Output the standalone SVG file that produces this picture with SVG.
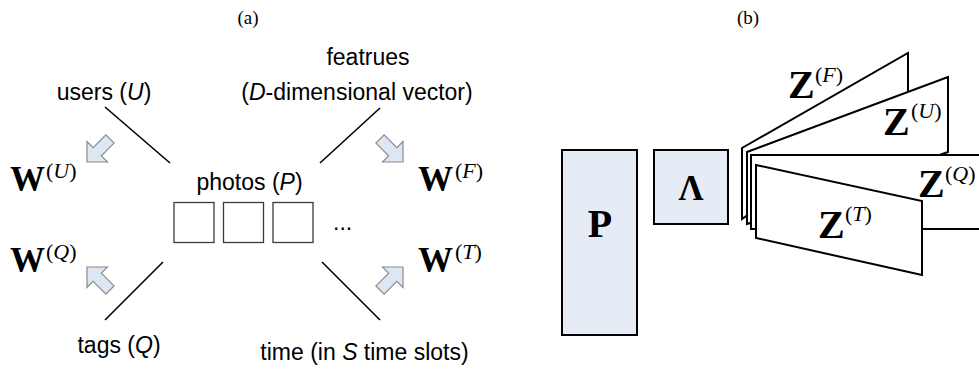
<svg xmlns="http://www.w3.org/2000/svg" width="979" height="369" viewBox="0 0 979 369">
<defs>
<style>
.lbl{font-family:"Liberation Sans",Arial,sans-serif;font-size:23px;fill:#000}
.it{font-style:italic}
.cap{font-family:"Liberation Serif","Times New Roman",serif;font-size:19px;fill:#000}
.mb{font-family:"Liberation Serif","Times New Roman",serif;font-weight:bold;fill:#000}
.sup{font-family:"Liberation Serif","Times New Roman",serif;font-size:22px;fill:#000}
.ln{stroke:#000;stroke-width:1.6;fill:none}
.sq{fill:#fff;stroke:#3a3a3a;stroke-width:1.3}
.arr{fill:#dde7f3;stroke:#8a8a8a;stroke-width:1.2;stroke-linejoin:miter}
.blk{fill:#e6ecf5;stroke:#000;stroke-width:2}
.page{fill:#fff;stroke:#000;stroke-width:2;stroke-linejoin:miter}
</style>
<path id="arrow" d="M0,0 L-14.5,-14.5 L-14.5,-5.8 L-32.5,-5.8 L-32.5,5.8 L-14.5,5.8 L-14.5,14.5 Z"/>
</defs>

<text class="cap" x="248" y="24" text-anchor="middle">(a)</text>
<text class="cap" x="748" y="24" text-anchor="middle">(b)</text>

<g id="connectors">
<line class="ln" x1="105" y1="107" x2="170" y2="163"/>
<line class="ln" x1="380" y1="108" x2="320" y2="163"/>
<line class="ln" x1="163" y1="262" x2="105" y2="320"/>
<line class="ln" x1="322" y1="262" x2="380" y2="320"/>
<use href="#arrow" class="arr" transform="translate(87,162) rotate(135)"/>
<use href="#arrow" class="arr" transform="translate(403,162) rotate(45)"/>
<use href="#arrow" class="arr" transform="translate(87,267) rotate(-135)"/>
<use href="#arrow" class="arr" transform="translate(403,267) rotate(-45)"/>
</g>

<g id="users"><text class="lbl" x="104" y="100" text-anchor="middle">users (<tspan class="it">U</tspan>)</text></g>
<g id="features">
<text class="lbl" x="368" y="65" text-anchor="middle">featrues</text>
<text class="lbl" x="357" y="100" text-anchor="middle" font-size="24">(<tspan class="it">D</tspan>-dimensional vector)</text>
</g>
<g id="photos">
<text class="lbl" x="249.5" y="190" text-anchor="middle">photos (<tspan class="it">P</tspan>)</text>
<rect class="sq" x="174" y="202.5" width="40" height="40"/>
<rect class="sq" x="223.5" y="202.5" width="40" height="40"/>
<rect class="sq" x="273" y="202.5" width="40" height="40"/>
<text class="lbl" x="333" y="230">...</text>
</g>
<g id="tags"><text class="lbl" x="119" y="353" text-anchor="middle">tags (<tspan class="it">Q</tspan>)</text></g>
<g id="time"><text class="lbl" x="364.5" y="360" text-anchor="middle">time (in <tspan class="it">S</tspan> time slots)</text></g>

<g id="WU"><text class="mb" x="10" y="191" font-size="35">W</text><text class="sup" x="46" y="178">(<tspan font-style="italic">U</tspan>)</text></g>
<g id="WQ"><text class="mb" x="10" y="272" font-size="35">W</text><text class="sup" x="46" y="259">(<tspan font-style="italic">Q</tspan>)</text></g>
<g id="WF"><text class="mb" x="418" y="191" font-size="35">W</text><text class="sup" x="455" y="178">(<tspan font-style="italic">F</tspan>)</text></g>
<g id="WT"><text class="mb" x="418" y="272" font-size="35">W</text><text class="sup" x="455" y="259">(<tspan font-style="italic">T</tspan>)</text></g>

<g id="P"><rect class="blk" x="562" y="150" width="75" height="185"/><text class="mb" x="600" y="237" font-size="40" text-anchor="middle">P</text></g>
<g id="Lambda"><rect class="blk" x="654" y="150" width="74" height="74"/><text class="mb" x="691" y="200" font-size="35" text-anchor="middle">Λ</text></g>

<g id="ZF"><polygon class="page" points="742,148 908,53 908,100 742,219"/><text class="mb" x="788" y="98" font-size="40">Z</text><text class="sup" x="815" y="82">(<tspan font-style="italic">F</tspan>)</text></g>
<g id="ZU"><polygon class="page" points="747,152 948,77 948,152 747,224"/><text class="mb" x="883" y="135" font-size="40">Z</text><text class="sup" x="911" y="118">(<tspan font-style="italic">U</tspan>)</text></g>
<g id="ZQ"><polygon class="page" points="751,155 990,155 990,229 751,229"/><text class="mb" x="918" y="197" font-size="40">Z</text><text class="sup" x="945" y="181">(<tspan font-style="italic">Q</tspan>)</text></g>
<g id="ZT"><polygon class="page" points="756,165 922,201 922,275 756,238"/><text class="mb" x="818" y="238" font-size="40">Z</text><text class="sup" x="845" y="221">(<tspan font-style="italic">T</tspan>)</text></g>
</svg>
